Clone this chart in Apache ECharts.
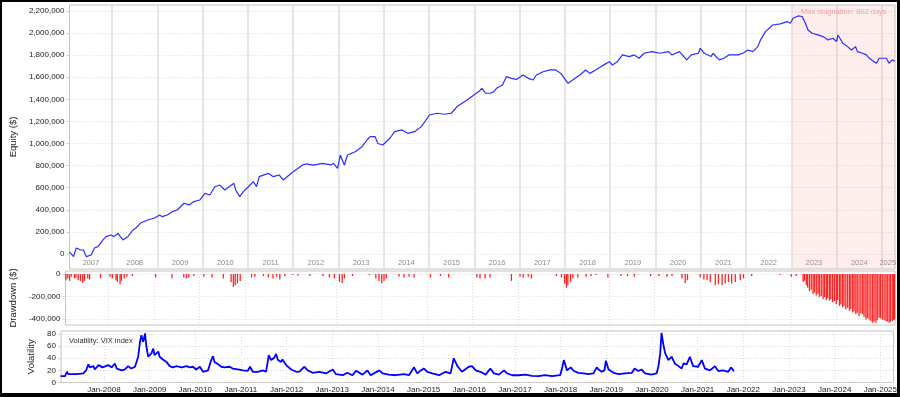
<!DOCTYPE html>
<html><head><meta charset="utf-8">
<script src="https://cdn.jsdelivr.net/npm/echarts@6/dist/echarts.min.js"></script>
<style>html,body{margin:0;padding:0;background:#fff}#c{width:900px;height:397px}</style>
</head><body><div id="c"></div>
<script>
// ---------- data (decimal years) ----------
const eqT = [2007.06,2007.10,2007.15,2007.21,2007.30,2007.37,2007.43,2007.54,2007.61,2007.69,2007.80,2007.87,2007.98,
2008.04,2008.13,2008.24,2008.35,2008.46,2008.52,2008.63,2008.79,2008.94,2009.05,2009.11,2009.22,2009.33,2009.44,2009.59,
2009.70,2009.81,2009.94,2010.05,2010.16,2010.27,2010.38,2010.49,2010.69,2010.73,2010.82,2010.90,2011.01,2011.12,2011.19,
2011.25,2011.45,2011.56,2011.69,2011.78,2012.00,2012.21,2012.28,2012.45,2012.65,2012.83,2012.89,2012.98,2013.04,2013.13,
2013.20,2013.37,2013.52,2013.63,2013.70,2013.81,2013.87,2013.98,2014.14,2014.24,2014.40,2014.53,2014.68,2014.83,2015.01,
2015.18,2015.34,2015.49,2015.62,2015.84,2015.99,2016.10,2016.17,2016.25,2016.36,2016.43,2016.49,2016.62,2016.71,2016.82,
2016.93,2017.02,2017.08,2017.19,2017.30,2017.37,2017.52,2017.67,2017.80,2017.91,2018.07,2018.17,2018.33,2018.46,2018.55,
2018.68,2018.83,2018.98,2019.05,2019.16,2019.27,2019.42,2019.53,2019.64,2019.75,2019.92,2020.10,2020.29,2020.36,2020.53,
2020.69,2020.79,2020.95,2020.99,2021.08,2021.23,2021.27,2021.41,2021.51,2021.62,2021.82,2021.93,2022.04,2022.15,2022.26,
2022.32,2022.43,2022.59,2022.76,2022.91,2022.98,2023.04,2023.15,2023.24,2023.31,2023.37,2023.46,2023.59,2023.70,2023.81,
2023.92,2024.00,2024.03,2024.14,2024.24,2024.33,2024.42,2024.46,2024.57,2024.66,2024.72,2024.83,2024.88,2024.94,2025.10,
2025.16,2025.23,2025.29];
const eqV = [20000,30000,-24000,54000,38000,36000,-24000,-9000,54000,66000,127000,157000,172000,
157000,187000,127000,157000,217000,232000,280000,308000,326000,353000,338000,353000,383000,398000,459000,
444000,474000,489000,549000,534000,609000,624000,579000,640000,579000,519000,564000,609000,655000,609000,
700000,730000,700000,715000,670000,745000,806000,815000,805000,821000,806000,821000,776000,896000,806000,
896000,926000,971000,1032000,1062000,1062000,1000000,987000,1050000,1107000,1123000,1092000,1107000,1153000,1258000,
1274000,1265000,1274000,1334000,1394000,1440000,1470000,1500000,1455000,1455000,1470000,1500000,1530000,1605000,1590000,
1580000,1605000,1620000,1590000,1575000,1620000,1650000,1666000,1666000,1635000,1545000,1575000,1620000,1666000,1635000,
1666000,1705000,1741000,1711000,1741000,1802000,1787000,1802000,1772000,1817000,1832000,1817000,1832000,1802000,1832000,
1757000,1802000,1817000,1862000,1817000,1787000,1817000,1757000,1772000,1802000,1802000,1817000,1847000,1832000,1877000,
1938000,2013000,2073000,2083000,2104000,2089000,2134000,2155000,2150000,2089000,2028000,1998000,1983000,1968000,1938000,
1953000,1923000,1983000,1908000,1877000,1847000,1877000,1832000,1817000,1802000,1772000,1741000,1726000,1772000,1772000,
1726000,1757000,1745000];

const ddT = [2007.07,2007.11,2007.15,2007.19,2007.26,2007.29,2007.34,2007.39,2007.44,2007.48,2007.55,2007.59,2007.83,
2008.04,2008.09,2008.17,2008.20,2008.26,2008.29,2008.35,2008.41,2008.53,2009.04,2009.40,2009.66,2009.72,2009.77,2009.88,
2010.10,2010.28,2010.53,2010.70,2010.75,2010.79,2010.84,2010.90,2011.15,2011.22,2011.41,2011.52,2011.62,2011.70,2011.77,
2011.88,2012.06,2012.17,2012.43,2012.72,2012.86,2012.97,2013.08,2013.14,2013.19,2013.37,2013.74,2013.88,2013.95,2014.01,
2014.06,2014.11,2014.39,2014.50,2014.61,2014.72,2015.08,2015.30,2015.48,2016.10,2016.17,2016.28,2016.39,2016.86,2017.05,
2017.12,2017.23,2017.30,2017.85,2017.96,2018.03,2018.07,2018.10,2018.16,2018.21,2018.32,2018.50,2018.61,2018.72,2018.98,
2019.27,2019.41,2019.56,2019.92,2020.10,2020.28,2020.39,2020.61,2020.68,2020.73,2021.01,2021.09,2021.16,2021.23,2021.34,
2021.41,2021.49,2021.56,2021.63,2021.70,2021.78,2021.89,2021.96,2022.14,2022.76,2023.01,2023.12,
2023.27,2023.30,2023.34,2023.37,2023.41,2023.45,2023.49,2023.52,2023.56,2023.60,2023.63,2023.67,2023.71,2023.74,2023.78,
2023.81,2023.85,2023.88,2023.92,2023.96,2024.00,2024.03,2024.07,2024.10,2024.14,2024.17,2024.21,2024.25,2024.29,2024.32,
2024.36,2024.39,2024.43,2024.46,2024.50,2024.54,2024.58,2024.61,2024.65,2024.68,2024.72,2024.76,2024.80,2024.83,2024.87,
2024.90,2024.94,2024.97,2025.01,2025.05,2025.09,2025.12,2025.16,2025.19,2025.23,2025.26,2025.28];
const ddV = [-55000,-39000,-61000,-24000,-39000,-30000,-55000,-61000,-79000,-61000,-39000,-48000,-39000,
-24000,-39000,-55000,-70000,-91000,-61000,-39000,-24000,-18000,-30000,-39000,-30000,-39000,-30000,-18000,
-24000,-30000,-39000,-70000,-115000,-100000,-85000,-61000,-30000,-24000,-18000,-30000,-39000,-24000,-48000,
-18000,-9000,-15000,-18000,-18000,-30000,-39000,-70000,-79000,-39000,-18000,-9000,-39000,-61000,-79000,
-61000,-39000,-24000,-30000,-24000,-30000,-30000,-18000,-30000,-30000,-39000,-39000,-30000,-61000,-24000,
-30000,-24000,-39000,-18000,-30000,-85000,-121000,-100000,-70000,-39000,-30000,-24000,-18000,-9000,-30000,
-18000,-18000,-24000,-18000,-18000,-24000,-18000,-39000,-79000,-55000,-30000,-48000,-55000,-70000,-100000,
-91000,-100000,-85000,-70000,-85000,-70000,-55000,-39000,-18000,-9000,-24000,-18000,
-70000,-60000,-100000,-120000,-152000,-140000,-176000,-165000,-191000,-175000,-206000,-195000,-221000,-205000,-230000,
-215000,-236000,-225000,-251000,-240000,-267000,-230000,-282000,-270000,-297000,-285000,-312000,-300000,-327000,-310000,
-342000,-330000,-358000,-345000,-373000,-350000,-358000,-380000,-403000,-390000,-403000,-420000,-433000,-420000,-433000,
-410000,-388000,-395000,-403000,-410000,-418000,-425000,-433000,-425000,-418000,-410000,-403000];

const vixT = [2007.05,2007.15,2007.19,2007.22,2007.40,2007.55,2007.61,2007.64,2007.66,2007.69,2007.77,2007.80,2007.88,2007.91,
2007.97,2008.04,2008.09,2008.17,2008.24,2008.28,2008.39,2008.46,2008.53,2008.60,2008.68,2008.75,2008.79,2008.82,2008.86,
2008.90,2008.93,2008.97,2009.04,2009.08,2009.11,2009.19,2009.22,2009.29,2009.37,2009.44,2009.51,2009.59,2009.70,2009.81,
2009.88,2009.95,2010.02,2010.10,2010.17,2010.28,2010.35,2010.39,2010.42,2010.50,2010.57,2010.64,2010.75,2010.82,2010.93,
2011.04,2011.15,2011.20,2011.26,2011.37,2011.48,2011.55,2011.61,2011.66,2011.73,2011.77,2011.81,2011.88,2011.91,2011.99,
2012.10,2012.21,2012.28,2012.39,2012.46,2012.57,2012.72,2012.86,2013.01,2013.08,2013.23,2013.33,2013.44,2013.52,2013.66,
2013.77,2013.84,2014.03,2014.10,2014.24,2014.39,2014.57,2014.68,2014.79,2014.86,2014.94,2015.01,2015.08,2015.19,2015.34,
2015.48,2015.59,2015.66,2015.74,2015.84,2015.99,2016.06,2016.14,2016.24,2016.36,2016.46,2016.54,2016.65,2016.76,2016.83,
2016.94,2017.08,2017.23,2017.37,2017.52,2017.66,2017.81,2017.99,2018.03,2018.07,2018.14,2018.22,2018.29,2018.39,2018.50,
2018.61,2018.72,2018.79,2018.83,2018.90,2018.96,2018.99,2019.05,2019.16,2019.27,2019.41,2019.56,2019.62,2019.70,2019.77,
2019.85,2019.99,2020.10,2020.14,2020.18,2020.21,2020.25,2020.29,2020.36,2020.43,2020.50,2020.58,2020.65,2020.69,2020.76,
2020.83,2020.90,2021.01,2021.09,2021.16,2021.27,2021.38,2021.45,2021.56,2021.67,2021.73,2021.78,2021.80];
const vixV = [10.5,10.5,17.7,13.8,13.8,15,20,26,30,25,27,21.5,28.7,30,
25,27,28.7,25,31.4,23,20,21.5,27,23,26,42.5,67,78,67,
81,59,42.5,48,56,45,51,42.5,38,34,27,25,27,25,27,
25,26,21.5,26,17.7,20,37,43.6,34,30,26,25,26,23,21.5,
20,19.3,26,17.7,17.7,20,17.7,45,37,41,47,37,34,38,28.7,
21.5,17.7,18,26,20,16,17.7,15,21.5,13.8,12,16,12,19.3,13,
20,12,20,15,13,12,13.8,12,25,15,20,23,17.7,15,12,
17.7,15,40,27,17.7,26,27,20,17.7,13,23,15,13,20,15,
12,12,13,11,10.5,12,10.5,12,23,37,20,25,19,16,15,
13.8,15,25,21.5,17.7,20,36,21.5,16,13.8,15,16,23,19,21.5,
15,13,15,26,48,82,62,48,37,42.5,31.4,27,23,31.4,30,
42.5,27,26,37,23,20,27,19,20,17.7,25,20,19];

// ---------- axes / ticks ----------
const xMin = 2007.06, xMax = 2025.29;
const yearTicks = [2008,2009,2010,2011,2012,2013,2014,2015,2016,2017,2018,2019,2020,2021,2022,2023,2024,2025];
const yearLabelPos = [2007.53,2008.5,2009.5,2010.5,2011.5,2012.5,2013.5,2014.5,2015.5,2016.5,2017.5,2018.5,2019.5,2020.5,2021.5,2022.5,2023.5,2024.5,2025.13];
const eqTicks = [0,200000,400000,600000,800000,1000000,1200000,1400000,1600000,1800000,2000000,2200000];
const ddTicks = [0,-200000,-400000];
const volTicks = [0,20,40,60,80];
const stagStart = 2023.03;
const stagLabel = 'Max stagnation: 802 days';

const fmt = v => Number(v).toLocaleString('en-US');
const FONT = '"Liberation Sans", Arial, sans-serif';
const dotted = {show:true, lineStyle:{color:'#d9d9d9', type:[1,2], width:1}};

function xAx(gi, opts){
  return Object.assign({
    type:'value', gridIndex:gi, min:xMin, max:xMax,
    axisLine:{show:false},
    axisTick:{show:false, customValues:yearTicks},
    axisLabel:{show:false},
    splitLine:dotted
  }, opts||{});
}
function yAx(gi, mn, mx, ticks, name, gap){
  return {
    type:'value', gridIndex:gi, min:mn, max:mx,
    axisLine:{show:false},
    axisTick:{show:true, customValues:ticks, length:3, lineStyle:{color:'#cfcfcf'}},
    axisLabel:{customValues:ticks, formatter:fmt, fontSize:8, color:'#222', margin:5, fontFamily:FONT},
    splitLine:dotted,
    name:name, nameLocation:'middle', nameGap:gap,
    nameTextStyle:{fontSize:9.5, color:'#222', fontFamily:FONT}
  };
}

const chart = echarts.init(document.getElementById('c'), null, {renderer:'canvas'});
chart.setOption({
  animation:false,
  backgroundColor:'#fff',
  textStyle:{fontFamily:FONT},
  title:{text:'Volatility: VIX index', left:64, top:332,
    textStyle:{fontSize:7.5, fontWeight:'normal', color:'#333', fontFamily:FONT}},
  grid:[
    {left:61, top:5, width:834, height:264, show:true, borderColor:'#c4c4c4', borderWidth:1, backgroundColor:'#fff'},
    {left:61, top:271, width:834, height:54, show:true, borderColor:'#c4c4c4', borderWidth:1, backgroundColor:'#fff'},
    {left:61, top:331, width:834, height:51.5, show:true, borderColor:'#c4c4c4', borderWidth:1, backgroundColor:'#fff'}
  ],
  xAxis:[
    xAx(0, {
      splitLine:{show:true, lineStyle:{color:'#dedede', width:1.5}},
      axisLabel:{show:true, inside:true, customValues:yearLabelPos, margin:2,
        formatter:v=>String(Math.floor(v)), fontSize:7.5, color:'#8c8c8c', fontFamily:FONT}
    }),
    xAx(1),
    xAx(2, {
      axisLabel:{show:true, customValues:yearTicks, formatter:v=>'Jan-'+v, fontSize:8, color:'#222', margin:3, fontFamily:FONT}
    })
  ],
  yAxis:[
    yAx(0, -136000, 2254000, eqTicks, 'Equity ($)', 40),
    yAx(1, -453000, 27000, ddTicks, 'Drawdown ($)', 37),
    yAx(2, 0, 85, volTicks, 'Volatility', 16)
  ],
  series:[
    {type:'line', xAxisIndex:0, yAxisIndex:0, data:eqT.map((t,i)=>[t,eqV[i]]),
      showSymbol:false, lineStyle:{color:'#2d2dff', width:1.2}, z:3,
      markArea:{silent:true, itemStyle:{color:'rgba(248,160,160,0.18)'},
        label:{show:true, position:'insideTop', distance:3, color:'#f3a3a3', fontSize:7.5, fontFamily:FONT},
        data:[[{xAxis:stagStart, name:stagLabel},{xAxis:xMax}]]}
    },
    {type:'bar', xAxisIndex:1, yAxisIndex:1, data:ddT.map((t,i)=>[t,ddV[i]]),
      barWidth:1.3, itemStyle:{color:'#ff2222'}},
    {type:'line', xAxisIndex:2, yAxisIndex:2, data:vixT.map((t,i)=>[t,vixV[i]]),
      showSymbol:false, lineStyle:{color:'#0000ff', width:1.8}}
  ],
  graphic:[
    {type:'rect', shape:{x:0,y:0,width:900,height:2}, style:{fill:'#000'}, silent:true},
    {type:'rect', shape:{x:0,y:0,width:2,height:397}, style:{fill:'#000'}, silent:true},
    {type:'rect', shape:{x:897,y:0,width:3,height:397}, style:{fill:'#000'}, silent:true},
    {type:'rect', shape:{x:0,y:393,width:900,height:4}, style:{fill:'#000'}, silent:true}
  ]
});
</script>
</body></html>
